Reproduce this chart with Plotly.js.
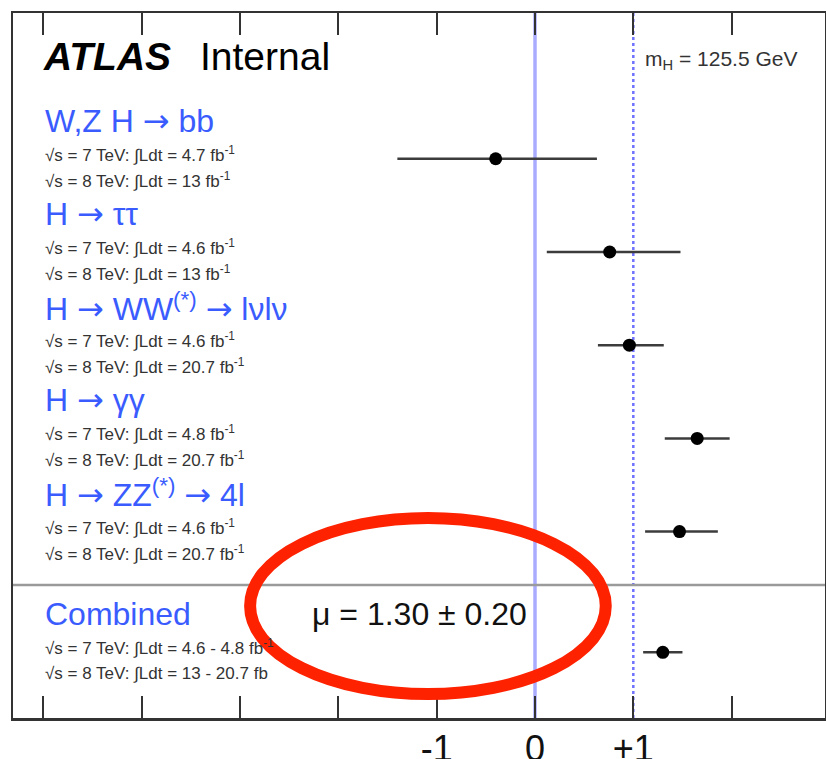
<!DOCTYPE html>
<html>
<head>
<meta charset="utf-8">
<script src="https://cdn.plot.ly/plotly-3.0.1.min.js"></script>
<style>
  html, body { margin: 0; padding: 0; background: #ffffff; }
  #chart { width: 826px; height: 759px; }
</style>
</head>
<body>
<div id="chart"></div>
<script>
// Signal strength per Higgs decay channel
const ARROW = '<span style="font-family:DejaVu Sans">→</span>';
const channels = ['W,Z H ' + ARROW + ' bb', 'H ' + ARROW + ' ττ', 'H ' + ARROW + ' WW<sup>(*)</sup> ' + ARROW + ' lνlν',
                  'H ' + ARROW + ' γγ', 'H ' + ARROW + ' ZZ<sup>(*)</sup> ' + ARROW + ' 4l', 'Combined'];
const muValues = [-0.40, 0.76, 0.96, 1.65, 1.47, 1.30];
const errMinus = [1.00, 0.64, 0.32, 0.33, 0.35, 0.20];
const errPlus  = [1.03, 0.72, 0.35, 0.33, 0.39, 0.20];
const rows     = [6, 5, 4, 3, 2, 0.705];
const lumi7    = ['4.7', '4.6', '4.6', '4.8', '4.6', '4.6 - 4.8'];
const lumi8    = ['13', '13', '20.7', '20.7', '20.7', '13 - 20.7'];
const lumi8Unit = [' fb<sup>-1</sup>', ' fb<sup>-1</sup>', ' fb<sup>-1</sup>', ' fb<sup>-1</sup>', ' fb<sup>-1</sup>', ' fb'];
const tickVals = [-5, -4, -3, -2, -1, 0, 1, 2];
const tickText = ['', '', '', '', '-1', '0', '+1', ''];
const combinedLabel = 'μ = 1.30 ± 0.20';

const FONT = 'Liberation Sans, Arial, Helvetica, sans-serif';
const BLUE = '#3a5cff';

const trace = {
  type: 'scatter',
  mode: 'markers',
  x: muValues,
  y: rows,
  marker: { color: '#000000', size: 13 },
  error_x: {
    type: 'data', symmetric: false,
    array: errPlus, arrayminus: errMinus,
    color: '#3c3c3c', thickness: 2.5, width: 0
  },
  hoverinfo: 'skip',
  showlegend: false
};

const annotations = [];
channels.forEach((name, i) => {
  annotations.push({
    xref: 'x', yref: 'y', x: -5, y: rows[i], yshift: 38,
    xanchor: 'left', yanchor: 'middle', showarrow: false,
    text: name, font: { family: FONT, size: 32, color: BLUE }
  });
  annotations.push({
    xref: 'x', yref: 'y', x: -5, y: rows[i], yshift: 5,
    xanchor: 'left', yanchor: 'middle', showarrow: false,
    text: '√s = 7 TeV: ∫Ldt = ' + lumi7[i] + ' fb<sup>-1</sup>',
    font: { family: FONT, size: 17, color: '#333333' }
  });
  annotations.push({
    xref: 'x', yref: 'y', x: -5, y: rows[i], yshift: -21,
    xanchor: 'left', yanchor: 'middle', showarrow: false,
    text: '√s = 8 TeV: ∫Ldt = ' + lumi8[i] + lumi8Unit[i],
    font: { family: FONT, size: 17, color: '#333333' }
  });
});

// Experiment label and mass hypothesis
annotations.push({
  xref: 'paper', yref: 'paper', x: 0.035, y: 0.9376,
  xanchor: 'left', yanchor: 'middle', showarrow: false,
  text: '<b><i>ATLAS</i></b>', font: { family: FONT, size: 39, color: '#000000' }
});
annotations.push({
  xref: 'paper', yref: 'paper', x: 0.228, y: 0.9376,
  xanchor: 'left', yanchor: 'middle', showarrow: false,
  text: 'Internal', font: { family: FONT, size: 39, color: '#000000' }
});
annotations.push({
  xref: 'x', yref: 'paper', x: 1, xshift: 10, y: 0.933,
  xanchor: 'left', yanchor: 'middle', showarrow: false,
  text: 'm<sub>H</sub> = 125.5 GeV', font: { family: FONT, size: 21, color: '#333333' }
});
// Combined result
annotations.push({
  xref: 'x', yref: 'y', x: 0, xshift: -6, y: rows[5], yshift: 38,
  xanchor: 'right', yanchor: 'middle', showarrow: false,
  text: combinedLabel, font: { family: FONT, size: 32, color: '#111111' }
});

const shapes = [
  // SM expectation and zero reference
  { type: 'line', xref: 'x', yref: 'paper', x0: 0, x1: 0, y0: 0, y1: 1,
    line: { color: '#a9abff', width: 3.5 }, layer: 'below' },
  { type: 'line', xref: 'x', yref: 'paper', x0: 1, x1: 1, y0: 0, y1: 1,
    line: { color: '#6f72ff', width: 2.5, dash: 'dot' }, layer: 'below' },
  // separator above the combined result
  { type: 'line', xref: 'paper', yref: 'paper', x0: 0, x1: 1, y0: 0.1887, y1: 0.1887,
    line: { color: '#9a9a9a', width: 2.5 }, layer: 'below' },
  // highlight around the combined value
  { type: 'circle', xref: 'paper', yref: 'paper', x0: 0.292, x1: 0.730, y0: 0.034, y1: 0.2837,
    line: { color: '#ff2200', width: 12 } }
];

const layout = {
  width: 826, height: 759,
  margin: { l: 13, r: 1, t: 13, b: 41 },
  paper_bgcolor: '#ffffff', plot_bgcolor: '#ffffff',
  showlegend: false,
  xaxis: {
    range: [-5.31, 2.95],
    tickmode: 'array', tickvals: tickVals, ticktext: tickText,
    ticks: 'inside', ticklen: 22, tickwidth: 2, tickcolor: '#333333',
    showline: true, linecolor: '#333333', linewidth: 2.5, mirror: 'ticks',
    showgrid: false, zeroline: false, ticklabelstandoff: -3,
    tickfont: { family: FONT, size: 36, color: '#111111' }
  },
  yaxis: {
    range: [0, 7.564],
    showline: true, linecolor: '#333333', linewidth: 2.5, mirror: true,
    ticks: '', showticklabels: false, showgrid: false, zeroline: false
  },
  annotations: annotations,
  shapes: shapes
};

Plotly.newPlot('chart', [trace], layout, { displayModeBar: false, staticPlot: true });
</script>
</body>
</html>
